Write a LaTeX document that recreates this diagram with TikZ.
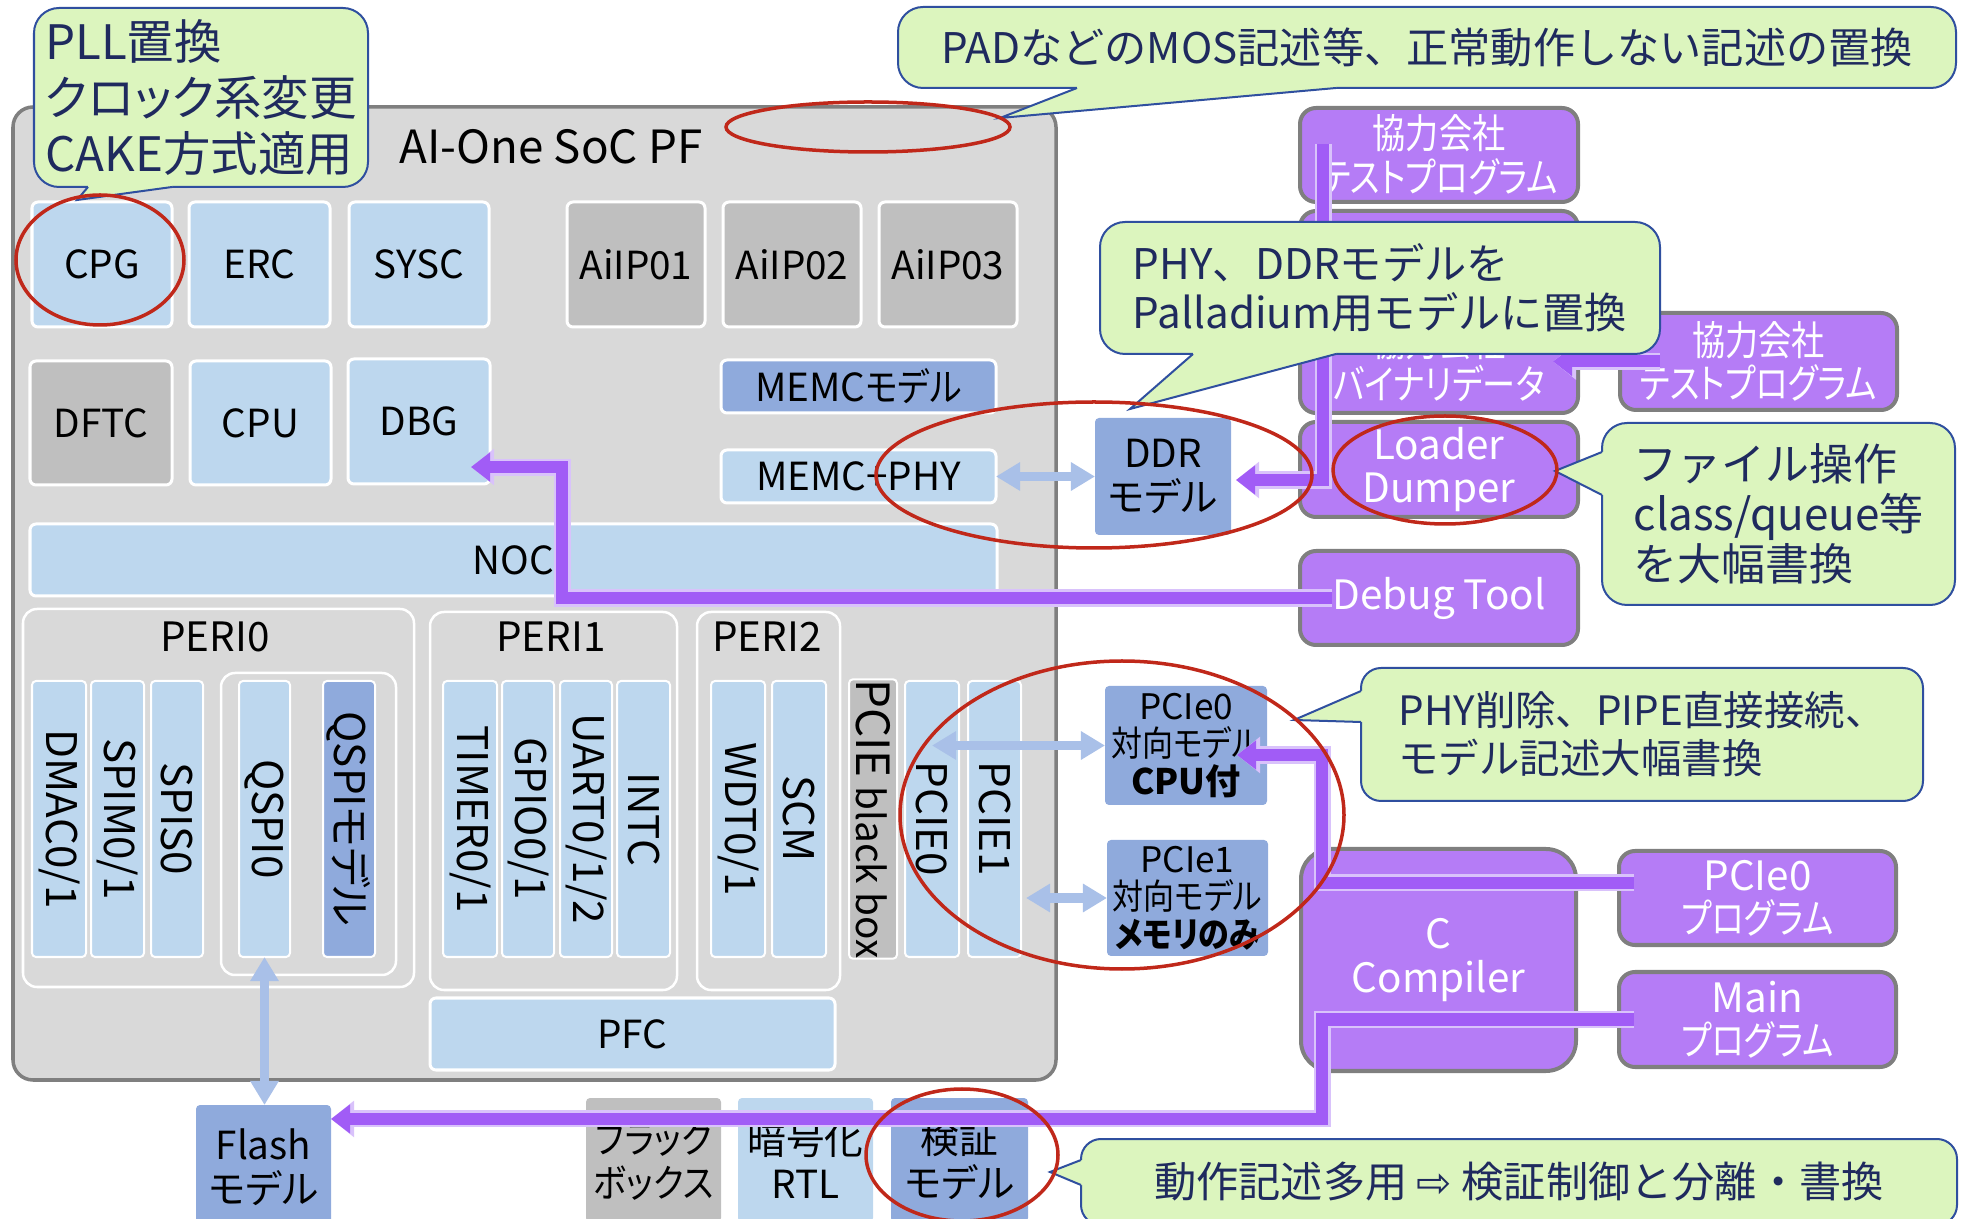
\documentclass[tikz,border=0pt]{standalone}
\usepackage{fontspec}
\usepackage{graphicx}
\setmainfont{Noto Sans CJK JP}
\newfontfamily\pf{Noto Sans CJK JP}[RawFeature=+palt]
\newfontfamily\dv{DejaVu Sans}
\usetikzlibrary{arrows.meta,calc}
\definecolor{socbg}{HTML}{D9D9D9}
\definecolor{socbd}{HTML}{7F7F7F}
\definecolor{lblue}{HTML}{BDD7EE}
\definecolor{dblue}{HTML}{8FAADC}
\definecolor{gbox}{HTML}{BFBFBF}
\definecolor{purp}{HTML}{B57CF6}
\definecolor{purpbd}{HTML}{7F7F7F}
\definecolor{parc}{HTML}{A15CF6}
\definecolor{parl}{HTML}{D9C2FB}
\definecolor{barc}{HTML}{A9C0E8}
\definecolor{cofill}{HTML}{DCF5BE}
\definecolor{coline}{HTML}{2F4F9F}
\definecolor{cotext}{HTML}{1F2A5E}
\definecolor{redc}{HTML}{C0281A}
\newcommand\mybox[7]{\node[#6,minimum width={(#4-#2)*0.01cm},minimum height={(#5-#3)*0.01cm}] (#1) at ({(#2+#4)/2},{-(#3+#5)/2}) {#7};}
\newcommand\mystrip[7]{\node[#6,rotate=-90,minimum width={(#5-#3)*0.01cm},minimum height={(#4-#2)*0.01cm}] (#1) at ({(#2+#4)/2},{-(#3+#5)/2}) {#7};}
\newcommand\kn[1]{\scalebox{0.82}[1]{#1}}
\newcommand\kt[1]{\scalebox{0.88}[1]{#1}}
\tikzset{
 base/.style={inner sep=0pt, outer sep=0pt, align=center},
 blk/.style={base, draw=white, line width=0.03cm, rounded corners=0.06cm},
 lb/.style={blk, fill=lblue},
 gb/.style={blk, fill=gbox},
 db/.style={blk, fill=dblue},
 mdl/.style={base, fill=dblue, rounded corners=0.04cm},
 peri/.style={base, draw=white, line width=0.025cm, fill=socbg, rounded corners=0.14cm},
 stripb/.style={lb, line width=0.02cm, rounded corners=0.04cm, font=\pf\fontsize{12}{13}\selectfont},
 pbox/.style={base, fill=purp, draw=purpbd, line width=0.04cm, rounded corners=0.16cm, text=white, font=\pf\fontsize{11.5}{12.3}\selectfont},
 cobox/.style={base, fill=cofill, draw=coline, line width=0.02cm, rounded corners=0.25cm, text=cotext, align=left},
 coedge/.style={draw=coline, line width=0.02cm, line join=miter},
 redring/.style={draw=redc, line width=0.035cm},
 barr/.style={draw=barc, line width=0.09cm, {Triangle[length=0.24cm,width=0.27cm]}-{Triangle[length=0.24cm,width=0.27cm]}},
 parr/.style={draw=parc, line width=0.12cm, -{Triangle[length=0.19cm,width=0.28cm]},
   preaction={draw=parl, line width=0.17cm, -{Triangle[length=0.23cm,width=0.35cm]}}},
}
\begin{document}
\begin{tikzpicture}[x=0.01cm,y=0.01cm, font=\pf\fontsize{11}{12.5}\selectfont]
\useasboundingbox (0,0) rectangle (1966,-1219);
% SoC
\mybox{soc}{13}{107}{1056}{1080}{base, fill=socbg, draw=socbd, line width=0.035cm, rounded corners=0.2cm}{}
\node[anchor=west, font=\pf\fontsize{13}{15}\selectfont] (title) at (387,-147) {AI-One SoC PF};
% row 1
\mybox{cpg}{32}{202}{172}{327}{lb}{CPG}
\mybox{erc}{189}{202}{330}{327}{lb}{ERC}
\mybox{sysc}{349}{202}{489}{327}{lb}{SYSC}
\mybox{ai1}{567}{202}{705}{327}{gb}{AiIP01}
\mybox{ai2}{723}{202}{861}{327}{gb}{AiIP02}
\mybox{ai3}{879}{202}{1017}{327}{gb}{AiIP03}
% row 2
\mybox{dftc}{30}{361}{172}{485}{gb}{DFTC}
\mybox{cpu}{190}{361}{331}{485}{lb}{CPU}
\mybox{dbg}{348}{359}{490}{484}{lb}{DBG}
\mybox{memcm}{721}{360}{996}{413}{db}{MEMC\kt{モデル}}
\mybox{memcp}{721}{450}{996}{503}{lb}{MEMC+PHY}
\mybox{noc}{30}{524}{997}{596}{lb}{NOC}
% PERI0
\mybox{peri0}{23}{609}{414}{987}{peri}{}
\node[font=\pf\fontsize{11.5}{13}\selectfont] (peri0l) at (215,-637) {PERI0};
\mybox{qgrp}{221}{673}{396}{975}{peri}{}
\mystrip{dmac}{32}{681}{86}{957}{stripb}{DMAC0/1}
\mystrip{spim}{91}{681}{144}{957}{stripb}{SPIM0/1}
\mystrip{spis}{151}{681}{203}{957}{stripb}{SPIS0}
\mystrip{q0}{239}{681}{290}{957}{stripb}{QSPI0}
\mystrip{qm}{323}{681}{375}{957}{stripb, fill=dblue}{QSPIモデル}
% PERI1
\mybox{peri1}{430}{612}{677}{990}{peri}{}
\node[font=\pf\fontsize{11.5}{13}\selectfont] (peri1l) at (551,-637) {PERI1};
\mystrip{tmr}{443}{681}{497}{957}{stripb}{TIMER0/1}
\mystrip{gpio}{502}{681}{554}{957}{stripb}{GPIO0/1}
\mystrip{uart}{560}{681}{612}{957}{stripb}{UART0/1/2}
\mystrip{intc}{617}{681}{670}{957}{stripb}{INTC}
% PERI2
\mybox{peri2}{697}{612}{840}{990}{peri}{}
\node[font=\pf\fontsize{11.5}{13}\selectfont] (peri2l) at (767,-637) {PERI2};
\mystrip{wdt}{711}{681}{765}{957}{stripb}{WDT0/1}
\mystrip{scm}{772}{681}{826}{957}{stripb}{SCM}
\mystrip{pbb}{849}{681}{897}{957}{stripb, fill=gbox, font=\pf\fontsize{11}{12}\selectfont}{{\fontsize{13}{13}\selectfont PCIE} black box}
\mystrip{pc0}{905}{681}{959}{957}{stripb}{PCIE0}
\mystrip{pc1}{968}{681}{1021}{957}{stripb}{PCIE1}
\mybox{pfc}{430}{998}{835}{1070}{lb}{PFC}
% outside models
\mybox{ddr}{1095}{418}{1231}{535}{mdl}{DDR\\モデル}
\mybox{pm0}{1105}{686}{1267}{805}{mdl, font=\pf\fontsize{10}{10.6}\selectfont}{PCIe0\\\kt{対向モデル}\\\textbf{CPU付}}
\mybox{pm1}{1107}{840}{1268}{956}{mdl, font=\pf\fontsize{10}{10.6}\selectfont}{PCIe1\\\kt{対向モデル}\\\textbf{\kt{メモリのみ}}}
% purple boxes
\mybox{kt1}{1300}{108}{1578}{202}{pbox}{\kn{協力会社}\\\kn{テストプログラム}}
\mybox{bin}{1300}{211}{1578}{413}{pbox}{}
\node[base, text=white, font=\pf\fontsize{11.5}{12.3}\selectfont] (binl) at (1439,-362) {\kn{協力会社}\\\kn{バイナリデータ}};
\mybox{ld}{1300}{422}{1578}{517}{pbox}{Loader\\Dumper}
\mybox{dt}{1300}{551}{1578}{645}{pbox}{Debug Tool}
\mybox{kt2}{1620}{313}{1897}{410}{pbox}{\kn{協力会社}\\\kn{テストプログラム}}
\mybox{cc}{1301}{849}{1576}{1071}{pbox, rounded corners=0.3cm}{C\\Compiler}
\mybox{pp0}{1619}{851}{1896}{945}{pbox}{PCIe0\\\kn{プログラム}}
\mybox{mp}{1619}{972}{1896}{1067}{pbox}{Main\\\kn{プログラム}}
% bottom boxes
\mybox{flash}{196}{1105}{331}{1229}{mdl}{Flash\\モデル}
\mybox{bbx}{586}{1098}{721}{1222}{mdl, fill=gbox}{\kt{ブラック}\\\kt{ボックス}}
\mybox{enc}{738}{1098}{873}{1222}{mdl, fill=lblue}{暗号化\\RTL}
\mybox{vm}{891}{1098}{1028}{1222}{mdl}{検証\\モデル}
% light blue arrows
\draw[barr] (memcp.east) -- (ddr.west);
\draw[barr] (pm0.west -| pc0.center) -- (pm0.west);
\draw[barr] ($(pm1.west -| pc1.north)+(5,0)$) -- (pm1.west);
\draw[barr] (q0.east) -- (q0.east |- flash.north);
% purple arrows
\draw[parr] ([xshift=0.32cm]dt.west) -- ++(-770,0) |- ([xshift=-0.19cm,yshift=-0.455cm]dbg.east);
\draw[parr] ([xshift=0.23cm,yshift=0.11cm]kt1.west) |- ([xshift=0.05cm,yshift=-0.035cm]ddr.east);
\draw[parr] ([xshift=0.4cm]kt2.west) -- ($(bin.east |- kt2.west)+(-25,0)$);
\draw[parr] ([xshift=0.15cm,yshift=0.15cm]pp0.west) -- ++(-312,0) |- ([xshift=-0.3cm,yshift=-0.095cm]pm0.east);
\draw[parr] ([xshift=0.15cm]mp.west) -- ++(-312,0) |- ([yshift=0.48cm]flash.east);
% callouts
\mybox{c1}{34}{8}{368}{187}{cobox, font=\pf\fontsize{13.5}{16}\selectfont}{PLL置換\\クロック系変更\\CAKE方式適用}
\fill[cofill] (88,-183) -- (88,-187) -- (77,-200) -- (172,-187) -- (172,-183) -- cycle;
\draw[coedge] (88,-187) -- (77,-200) -- (172,-187);
\mybox{c2}{898}{7}{1956}{88}{cobox, font=\fontsize{12}{14}\selectfont}{PADなどのMOS記述等、正常動作しない記述の置換}
\fill[cofill] (1077,-84) -- (1077,-88) -- (1000,-118) -- (1336,-88) -- (1336,-84) -- cycle;
\draw[coedge] (1077,-88) -- (1000,-118) -- (1336,-88);
\mybox{c3}{1100}{222}{1660}{354}{cobox, font=\fontsize{12}{13.8}\selectfont}{PHY、DDRモデルを\\Palladium用モデルに置換}
\fill[cofill] (1193,-350) -- (1193,-354) -- (1130,-409) -- (1336,-354) -- (1336,-350) -- cycle;
\draw[coedge] (1193,-354) -- (1130,-409) -- (1336,-354);
\mybox{c4}{1602}{423}{1955}{605}{cobox, font=\fontsize{12.5}{14.2}\selectfont}{ファイル操作\\class/queue等\\を大幅書換}
\fill[cofill] (1606,-452) -- (1602,-452) -- (1555,-471) -- (1602,-495) -- (1606,-495) -- cycle;
\draw[coedge] (1602,-452) -- (1555,-471) -- (1602,-495);
\mybox{c5}{1361}{668}{1923}{801}{cobox, rounded corners=0.2cm, font=\fontsize{11.5}{13.7}\selectfont}{PHY削除、PIPE直接接続、\\モデル記述大幅書換}
\fill[cofill] (1365,-691) -- (1361,-691) -- (1294,-720) -- (1361,-722) -- (1365,-722) -- cycle;
\draw[coedge] (1361,-691) -- (1294,-720) -- (1361,-722);
\mybox{c6}{1081}{1139}{1957}{1225}{cobox, rounded corners=0.2cm, font=\fontsize{12}{14}\selectfont}{動作記述多用 {\dv ⇨} 検証制御と分離・書換}
\fill[cofill] (1085,-1160) -- (1081,-1160) -- (1050,-1172) -- (1081,-1185) -- (1085,-1185) -- cycle;
\draw[coedge] (1081,-1160) -- (1050,-1172) -- (1081,-1185);
% red rings
\draw[redring] (868,-127) ellipse [x radius=142, y radius=25];
\draw[redring] (100,-260) ellipse [x radius=84, y radius=65];
\draw[redring] (1094,-475) ellipse [x radius=218, y radius=73];
\draw[redring] (1445,-470) ellipse [x radius=112, y radius=54];
\draw[redring] (1122,-815) ellipse [x radius=222, y radius=154];
\draw[redring] (962,-1155) ellipse [x radius=96, y radius=66];
\end{tikzpicture}
\end{document}
